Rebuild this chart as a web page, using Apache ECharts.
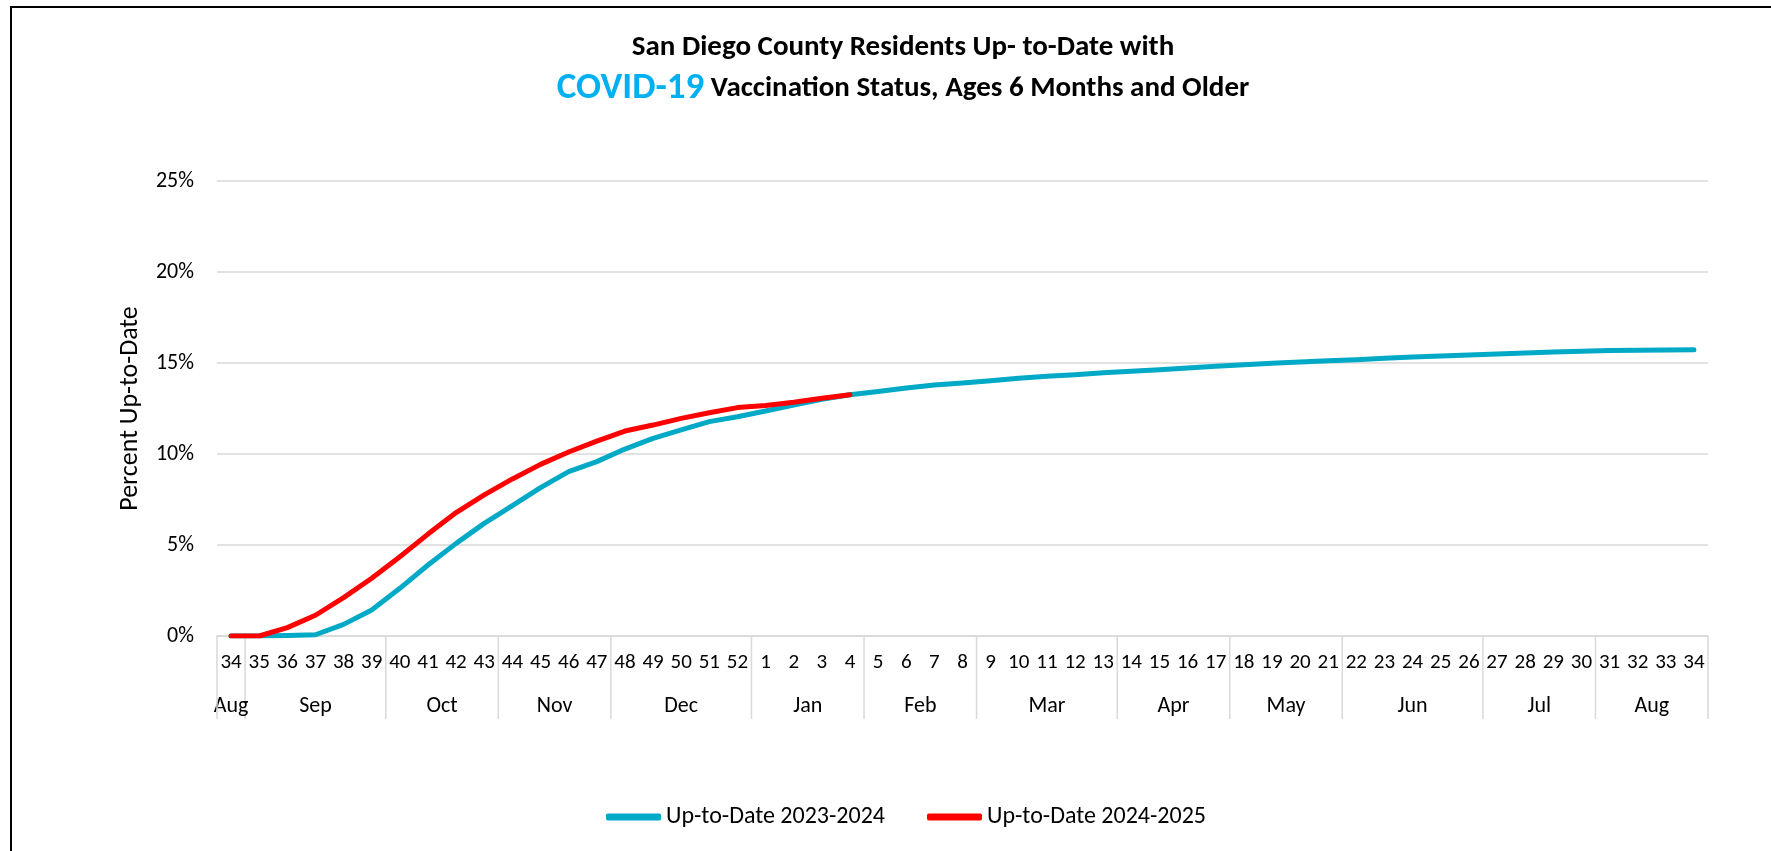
<!DOCTYPE html>
<html>
<head>
<meta charset="utf-8">
<script src="https://cdn.jsdelivr.net/npm/echarts@6/dist/echarts.min.js"></script>
<style>
html,body{margin:0;padding:0;background:#fff;}
#chart{width:1771px;height:851px;}
</style>
</head>
<body>
<div id="chart"></div>
<script>
// ---- data ----
const weekLabels = ['34','35','36','37','38','39','40','41','42','43','44','45','46','47','48','49','50','51','52',
  '1','2','3','4','5','6','7','8','9','10','11','12','13','14','15','16','17','18','19','20','21','22','23','24','25','26','27','28','29','30','31','32','33','34'];
const monthNames = ['Aug','Sep','Oct','Nov','Dec','Jan','Feb','Mar','Apr','May','Jun','Jul','Aug'];
const monthWeekCounts = [1,5,4,4,5,4,4,5,4,4,5,4,4];
const yTicks = [0,5,10,15,20,25];
const series2324 = [0,0,0.03,0.07,0.64,1.43,2.62,3.90,5.09,6.19,7.16,8.15,9.03,9.58,10.27,10.86,11.32,11.78,12.05,
  12.36,12.69,13.00,13.26,13.44,13.63,13.79,13.90,14.03,14.16,14.27,14.36,14.47,14.54,14.63,14.73,14.82,14.91,14.98,15.05,15.13,
  15.18,15.26,15.33,15.38,15.44,15.49,15.55,15.60,15.64,15.68,15.70,15.71,15.73];
const series2425 = [0,0,0.46,1.14,2.11,3.17,4.36,5.60,6.78,7.75,8.63,9.43,10.11,10.71,11.26,11.59,11.96,12.27,12.55,
  12.66,12.84,13.06,13.26];
const seriesNames = ['Up-to-Date 2023-2024','Up-to-Date 2024-2025'];

// month spans as [startIndex, endIndex, monthIdx]
const monthSpans = [];
(function(){ let s = 0; monthWeekCounts.forEach((c,i)=>{ monthSpans.push([s, s+c-1, i]); s += c; }); })();

const FONT = 'Carlito, Lato, sans-serif';
const chart = echarts.init(document.getElementById('chart'), null, {renderer:'canvas'});
chart.setOption({
  animation: false,
  backgroundColor: '#fff',
  title: {
    left: 903,
    textAlign: 'center',
    top: 27,
    padding: 0,
    text: 'San Diego County Residents Up- to-Date with\n{c|COVID-19} {b|Vaccination Status, Ages 6 Months and Older}',
    textStyle: {
      fontFamily: FONT, fontWeight: 'bold', fontSize: 29, color: '#000', lineHeight: 41,
      rich: {
        c: {fontFamily: FONT, fontWeight: 'bold', fontSize: 37, color: '#00B0F0', lineHeight: 41},
        b: {fontFamily: FONT, fontWeight: 'bold', fontSize: 29, color: '#000', lineHeight: 41}
      }
    }
  },
  graphic: [{
    type: 'rect', silent: true, z: -1,
    shape: {x: 11, y: 7, width: 1800, height: 900},
    style: {fill: 'none', stroke: '#000', lineWidth: 2}
  }],
  legend: {
    data: seriesNames,
    left: 601, top: 800,
    icon: 'roundRect',
    itemWidth: 55, itemHeight: 7,
    itemGap: 42,
    textStyle: {fontFamily: FONT, fontSize: 24, color: '#000'}
  },
  grid: {left: 217, right: 63, top: 181, bottom: 215, containLabel: false},
  xAxis: {
    type: 'category',
    data: weekLabels,
    boundaryGap: true,
    axisLine: {show: true, lineStyle: {color: '#d9d9d9', width: 1.5}},
    axisTick: {show: false},
    axisLabel: {interval: 0, margin: 16, fontFamily: FONT, fontSize: 21, color: '#000'},
    splitLine: {show: false}
  },
  yAxis: {
    type: 'value',
    min: yTicks[0], max: yTicks[yTicks.length-1], interval: 5,
    name: 'Percent Up-to-Date',
    nameLocation: 'middle', nameRotate: 90, nameGap: 74,
    nameTextStyle: {fontFamily: FONT, fontSize: 26, color: '#000'},
    axisLine: {show: false}, axisTick: {show: false},
    axisLabel: {formatter: '{value}%', margin: 23, fontFamily: FONT, fontSize: 22, color: '#000'},
    splitLine: {lineStyle: {color: '#d9d9d9', width: 1.5}}
  },
  series: [
    {
      name: seriesNames[0], type: 'line', data: series2324,
      symbol: 'none', smooth: false, z: 3,
      itemStyle: {color: '#00A9C6'},
      lineStyle: {color: '#00A9C6', width: 5, cap: 'round', join: 'round'}
    },
    {
      name: seriesNames[1], type: 'line', data: series2425,
      symbol: 'none', smooth: false, z: 4,
      itemStyle: {color: '#FF0000'},
      lineStyle: {color: '#FF0000', width: 5, cap: 'round', join: 'round'}
    },
    {
      type: 'custom', name: 'months', silent: true, clip: false, z: 1,
      encode: {x: 0, y: -1},
      data: monthSpans.map(m => [m[0], m[1], m[2]]),
      renderItem: function(params, api){
        const s = api.value(0), e = api.value(1), mi = api.value(2);
        const p0 = api.coord([s, 0]);
        const p1 = api.coord([e, 0]);
        const band = api.size([1, 0])[0];
        const l = p0[0] - band/2, r = p1[0] + band/2, y0 = p0[1];
        const children = [
          {type:'line', shape:{x1:r, y1:y0, x2:r, y2:y0+83}, style:{stroke:'#d9d9d9', lineWidth:1.5}},
          {type:'text', style:{x:(l+r)/2, y:y0+70, text: monthNames[mi], align:'center', verticalAlign:'middle',
            font: '22px ' + FONT, fill:'#000'}}
        ];
        if (params.dataIndex === 0) {
          children.push({type:'line', shape:{x1:l, y1:y0, x2:l, y2:y0+83}, style:{stroke:'#d9d9d9', lineWidth:1.5}});
        }
        return {type:'group', children: children};
      }
    }
  ]
});
</script>
</body>
</html>
